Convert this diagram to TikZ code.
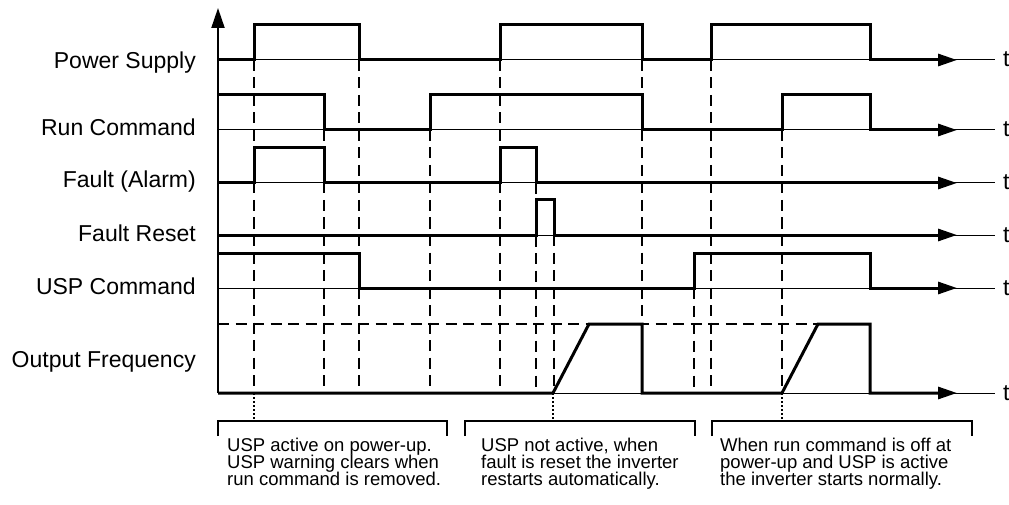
\documentclass[tikz,border=0pt]{standalone}
\usepackage{fontspec}
\setmainfont{Liberation Sans}
\usetikzlibrary{arrows.meta}
\begin{document}
\begin{tikzpicture}[x=1pt,y=-1pt,
  sig/.style={line width=3pt, line join=miter, -{Triangle[length=19pt,width=12pt]}},
  baseln/.style={line width=1pt},
  guide/.style={line width=1.1pt, dash pattern=on 11pt off 6.5pt},
  dotg/.style={line width=1.5pt, dash pattern=on 2pt off 2pt},
  brk/.style={line width=2pt},
  lab/.style={font=\fontsize{23}{27}\selectfont, anchor=base east, inner sep=0},
  note/.style={font=\fontsize{18.5}{17}\selectfont, anchor=base west, inner sep=0},
  tl/.style={font=\fontsize{23}{27}\selectfont, anchor=base west, inner sep=0}]
\useasboundingbox (0,0) rectangle (1009,505);

% guide lines (dashed)
\draw[guide] (218,324) -- (818,324);
\foreach \x/\y in {254/60,324/130,359/60,430/130,500/60,536/183,554/235,642/60,694/288,711/60,782/130}
  \draw[guide] (\x,\y) -- (\x,393);
% dotted pointers
\foreach \x in {254,553,782}
  \draw[dotg] (\x,393) -- (\x,421);

% thin baselines
\foreach \y in {60,130,183,235,288,393}
  \draw[baseln] (218,\y) -- (995,\y);

% signals
\draw[sig] (218,60) -- (254,60) -- (254,25) -- (359,25) -- (359,60) -- (500,60) -- (500,25) -- (642,25) -- (642,60) -- (711,60) -- (711,25) -- (870,25) -- (870,60) -- (957,60);
\draw[sig] (218,95) -- (324,95) -- (324,130) -- (430,130) -- (430,95) -- (642,95) -- (642,130) -- (782,130) -- (782,95) -- (870,95) -- (870,130) -- (957,130);
\draw[sig] (218,183) -- (254,183) -- (254,148) -- (324,148) -- (324,183) -- (500,183) -- (500,148) -- (536,148) -- (536,183) -- (957,183);
\draw[sig] (218,235) -- (536,235) -- (536,200) -- (554,200) -- (554,235) -- (957,235);
\draw[sig] (218,253) -- (359,253) -- (359,288) -- (694,288) -- (694,253) -- (870,253) -- (870,288) -- (957,288);
\draw[sig] (218,393) -- (553,393) -- (589,324) -- (642,324) -- (642,393) -- (782,393) -- (818,324) -- (870,324) -- (870,393) -- (957,393);

% vertical axis
\draw[line width=2pt, -{Triangle[length=20pt,width=13pt]}] (218,393) -- (218,8);

% row labels
\node[lab] (lps) at (196,69) {Power Supply};
\node[lab] (lrc) at (196,136) {Run Command};
\node[lab] (lfa) at (196,188) {Fault (Alarm)};
\node[lab] (lfr) at (196,241) {Fault Reset};
\node[lab] (lusp) at (196,294) {USP Command};
\node[lab] (lof) at (196,367) {Output Frequency};

% t labels
\foreach \y/\n in {60/a,130/b,183/c,235/d,288/e,393/f}
  \node[tl] (t\n) at (1003,\y+7) {t};

% brackets
\draw[brk] (218,436) -- (218,421) -- (447,421) -- (447,436);
\draw[brk] (465,436) -- (465,421) -- (695,421) -- (695,436);
\draw[brk] (712,436) -- (712,421) -- (972,421) -- (972,436);

% notes
\node[note] (n1a) at (227,451) {USP active on power-up.};
\node[note] (n1b) at (227,468) {USP warning clears when};
\node[note] (n1c) at (227,485) {run command is removed.};
\node[note] (n2a) at (481,451) {USP not active, when};
\node[note] (n2b) at (481,468) {fault is reset the inverter};
\node[note] (n2c) at (481,485) {restarts automatically.};
\node[note] (n3a) at (720,451) {When run command is off at};
\node[note] (n3b) at (720,468) {power-up and USP is active};
\node[note] (n3c) at (720,485) {the inverter starts normally.};
\end{tikzpicture}
\end{document}
